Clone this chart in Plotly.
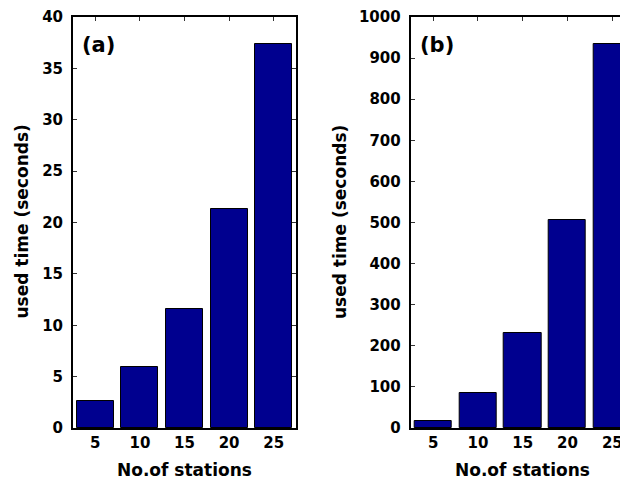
import plotly.graph_objects as go

categories = ["5", "10", "15", "20", "25"]
time_a = [2.6, 5.9, 11.6, 21.3, 37.4]
time_b = [17, 85, 232, 505, 935]

ticks_a = [0, 5, 10, 15, 20, 25, 30, 35, 40]
ticks_b = [0, 100, 200, 300, 400, 500, 600, 700, 800, 900, 1000]

# page offset of the plot div (default body margin)
OX, OY = 8, 8
W, H = 628 - OX, 481 - OY
FONT = "DejaVu Sans"
BAR = "#00008F"


def px(x):
    return (x - OX) / W


def py(y):
    return 1 - (y - OY) / H


fig = go.Figure()
fig.add_trace(go.Bar(x=categories, y=time_a, xaxis="x", yaxis="y",
                     marker=dict(color=BAR, line=dict(color="black", width=1)),
                     width=0.83, showlegend=False))
fig.add_trace(go.Bar(x=categories, y=time_b, xaxis="x2", yaxis="y2",
                     marker=dict(color=BAR, line=dict(color="black", width=1)),
                     width=0.83, showlegend=False))

ydom = [py(428), py(17)]
xa = [px(73), px(296)]
xb = [px(410.7), 1.0]

tickfont = dict(family=FONT, size=15, color="black", weight="bold")
common_x = dict(type="category", showline=True, linewidth=2, linecolor="black",
                ticks="inside", ticklen=4, tickwidth=1, tickcolor="#333",
                tickfont=tickfont, showgrid=False, zeroline=False, automargin=False,
                mirror="ticks", layer="below traces", ticklabelstandoff=0)
common_y = dict(showline=True, linewidth=2, linecolor="black",
                ticks="inside", ticklen=4, tickwidth=1, tickcolor="#333",
                tickfont=tickfont, showgrid=False, zeroline=False, automargin=False,
                layer="below traces", ticklabelstandoff=5)

fig.update_layout(
    width=W, height=H,
    margin=dict(l=0, r=0, t=0, b=0, autoexpand=False),
    paper_bgcolor="white", plot_bgcolor="white",
    bargap=0,
    xaxis=dict(domain=xa, anchor="y", range=[-0.5, 4.5], **common_x),
    yaxis=dict(domain=ydom, anchor="x", range=[0, 40], tickvals=ticks_a,
               mirror="ticks", **common_y),
    xaxis2=dict(domain=xb, anchor="y2", range=[-0.5, 4.35], **common_x),
    yaxis2=dict(domain=ydom, anchor="x2", range=[0, 1000], tickvals=ticks_b,
                mirror=False, **common_y),
)

titlefont = dict(family=FONT, size=17, color="black", weight="bold")
labfont = dict(family=FONT, size=21, color="black", weight="bold")
ann = [
    dict(text="No.of stations", x=px(184.5), y=py(470), xref="paper", yref="paper",
         showarrow=False, font=titlefont, xanchor="center", yanchor="middle"),
    dict(text="No.of stations", x=px(522), y=py(470), xref="paper", yref="paper",
         showarrow=False, font=titlefont, xanchor="center", yanchor="middle"),
    dict(text="used time (seconds)", x=px(21.5), y=py(222), xref="paper", yref="paper",
         showarrow=False, font=titlefont, textangle=-90, xanchor="center", yanchor="middle"),
    dict(text="used time (seconds)", x=px(340), y=py(222), xref="paper", yref="paper",
         showarrow=False, font=titlefont, textangle=-90, xanchor="center", yanchor="middle"),
    dict(text="(a)", x=px(99), y=py(45), xref="paper", yref="paper",
         showarrow=False, font=labfont, xanchor="center", yanchor="middle"),
    dict(text="(b)", x=px(437), y=py(45), xref="paper", yref="paper",
         showarrow=False, font=labfont, xanchor="center", yanchor="middle"),
]
fig.update_layout(annotations=ann)

fig.write_html("out.html")
